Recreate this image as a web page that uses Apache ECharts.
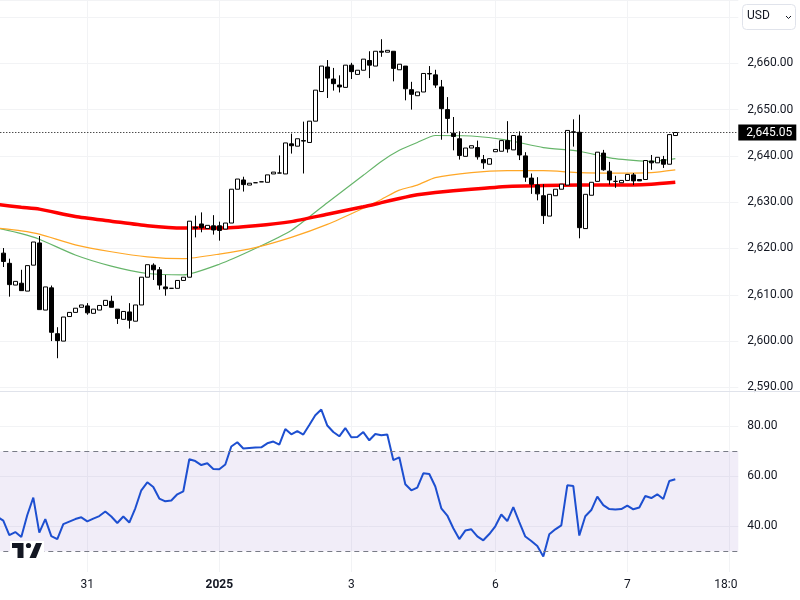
<!DOCTYPE html>
<html>
<head>
<meta charset="utf-8">
<style>html,body{margin:0;padding:0;background:#fff}#main{width:800px;height:600px}</style>
<script src="https://cdn.jsdelivr.net/npm/echarts@6/dist/echarts.min.js"></script>
</head>
<body>
<div id="main"></div>
<script>
// price candles, one entry per bar (first bar sits just off the left edge)
var opens = [2620.5,2619.0,2616.8,2612.1,2612.5,2610.8,2616.4,2621.2,2606.7,2611.5,2601.6,2600,2605.3,2606.2,2607.3,2607.6,2606,2606.7,2607.7,2608.6,2606.9,2604.7,2606.3,2604.3,2607.8,2613.8,2616.4,2615.4,2611.7,2611.4,2611.4,2613.1,2613.8,2624.6,2625.3,2624.3,2624.9,2624.9,2624.2,2625.5,2632.8,2634.8,2633.7,2634.2,2634.4,2634.3,2636.1,2636.3,2636.1,2642.6,2642.1,2643.3,2642.9,2647.5,2653.9,2659.2,2656.6,2655.3,2654.8,2659.6,2657.6,2658.5,2660.6,2659.4,2662.6,2662.4,2662.6,2658.6,2659.4,2654.3,2653,2653.8,2657.8,2657.5,2654.9,2650,2644.9,2643.7,2639.9,2641.7,2641.8,2639.2,2638.2,2640.9,2641,2643.3,2641.3,2644.3,2640,2635.2,2633.7,2631.4,2627,2631.4,2632.8,2633.7,2645.2,2645.1,2624.3,2631.5,2634.5,2640.6,2636.7,2634.5,2634.2,2634.7,2635.9,2634.9,2634.9,2638.9,2638.5,2639.2,2638.2,2644.4];
var closes = [2619.2,2617.2,2612.2,2612.9,2610.9,2616.3,2621.4,2606.8,2611.7,2601.9,2600.1,2605.2,2606.2,2607.1,2607.8,2606.1,2606.9,2607.7,2608.8,2607.3,2604.9,2606.4,2604.5,2607.8,2613.8,2616.5,2615.4,2612.1,2611.3,2611.4,2613.1,2613.8,2625.9,2624.4,2624.5,2625,2624,2623.9,2625.5,2632.8,2635,2633.8,2634.1,2634.2,2634.4,2635.9,2636.5,2636.3,2642.8,2642.2,2643.7,2643.2,2647.5,2654.2,2659.4,2656.8,2655.6,2654.9,2659.6,2658.2,2658.5,2660.9,2659.6,2662.6,2662.4,2662.8,2658.9,2659.8,2654.5,2653.3,2653.8,2657.8,2657.7,2655.3,2650.2,2648.1,2644.2,2640.1,2641.7,2642.2,2639.8,2638.5,2639.4,2641.4,2643.3,2641.5,2644.4,2640.2,2635.4,2633.9,2631.8,2627.1,2631.7,2632.8,2633.9,2645.5,2645.1,2624.5,2631.7,2634.3,2640.8,2637,2634.8,2634.5,2634.7,2636,2634.6,2634.6,2639,2638.5,2639.7,2638.2,2644.6,2645.05];
var highs = [2620.8,2620.1,2617.8,2612.9,2615.4,2616.3,2621.4,2622.7,2611.7,2612,2603,2605.2,2606.2,2607.1,2607.8,2608.2,2606.9,2607.7,2608.8,2609.8,2606.9,2606.4,2608.2,2607.8,2613.8,2616.5,2616.8,2616,2614.3,2611.4,2613.1,2613.8,2625.9,2627.1,2627.8,2625,2627.2,2625.8,2625.5,2632.8,2635,2635.5,2634.1,2634.2,2634.4,2635.9,2636.5,2640.1,2642.8,2644.8,2643.7,2647.4,2647.5,2654.2,2659.4,2660.7,2659,2657.4,2659.6,2660.1,2658.5,2660.9,2662.6,2662.6,2665.2,2662.8,2662.6,2659.8,2659.4,2656,2653.8,2657.8,2659.4,2658.6,2656.4,2652.7,2648.4,2645.3,2641.7,2642.2,2643.3,2640.2,2639.4,2641.4,2643.3,2647.5,2644.4,2645.3,2640.8,2636.2,2635.4,2633.9,2631.7,2632.8,2633.9,2645.5,2647.9,2648.9,2631.7,2634.3,2640.8,2641.3,2638.7,2635.7,2634.7,2636,2636.3,2634.9,2639,2640.2,2639.7,2640,2644.6,2645.05];
var lows = [2619,2616,2609.6,2612.1,2610.9,2610.8,2616.4,2606.8,2606.7,2600,2596.3,2600,2605.3,2606.2,2607.3,2605.7,2606,2606.7,2607.7,2607.3,2603.7,2604.7,2602.7,2604.3,2607.8,2613.8,2613.2,2611.1,2609.8,2611.4,2611.4,2613.1,2613.8,2622.4,2623.5,2624.3,2623,2621.7,2624.2,2625.5,2632.8,2632.3,2633.7,2634.2,2634.4,2634.3,2636.1,2636.3,2636.1,2640.5,2642.1,2636.2,2642.9,2647.5,2653.9,2652.5,2654.1,2653.7,2654.8,2656.6,2657.6,2658.5,2656.8,2659.4,2661.4,2662.4,2656.1,2658.6,2652,2650,2653,2653.8,2656.4,2654.7,2643.5,2644.9,2641.2,2639.2,2639.9,2641.7,2639.2,2637.2,2638.2,2640.9,2641,2640.7,2641.3,2639.1,2634.4,2631.8,2630.4,2625.3,2627,2631.4,2632.8,2633.7,2642,2622.2,2624.3,2631.5,2634.5,2636.8,2633.8,2633.1,2634.2,2634.7,2633.7,2634.6,2634.9,2637,2638.5,2637.4,2638.2,2644.4];

var maBars = [0,4,7,13,19,25,31,37,43,49,55,61,64,67,70,73,79,85,91,97,103,109,113];
var maRed = [2629.5,2628.9,2628.5,2626.9,2625.9,2624.9,2624.4,2624.4,2624.9,2625.8,2627.4,2629,2629.9,2630.8,2631.6,2632.1,2632.8,2633.4,2633.6,2633.7,2633.7,2633.9,2634.3];
var maOrange = [2624.4,2623.8,2623.1,2620.8,2619.3,2618.2,2617.8,2618.8,2620.2,2622.4,2625.2,2628.7,2630.6,2632.6,2633.7,2635.3,2636.4,2636.8,2636.8,2636.4,2636.3,2636.4,2637];
var maGreen = [2624.4,2623.2,2622,2618.6,2616.2,2614.6,2614.3,2616.6,2620,2623.9,2629.9,2635.8,2638.8,2641.2,2642.9,2644.4,2644.3,2643.4,2641.8,2641,2639.4,2638.8,2639.4];

// RSI, one entry per bar
var rsi = [43.8,42.3,36.5,37.7,35.7,44.5,51.5,37.5,42.9,36.1,34.9,40.9,41.9,42.9,43.6,42,43.1,44.1,45.9,43.9,41.3,43.9,41.5,47.2,54.4,57.6,55.7,51.1,50,50.3,52.8,54,66.8,66.1,64.5,65.2,62.9,62.8,64.7,71.9,73.6,71.1,71.3,71.5,71.6,73.2,73.9,72.7,78.9,76.8,78.1,76.7,80.5,84.4,86.7,80.3,77.7,76,79.3,75.6,75.7,77.7,74.4,76.9,76.4,76.7,66.5,67.6,56.8,54.4,55.5,61.2,60.9,55.9,47.2,44.3,39.2,34.9,38.3,38.8,36,34.4,36.9,40,44.7,42.1,47.7,41.7,35.9,34.1,32.1,27.9,36.8,38.8,40.4,56.4,56.1,36.3,44,46.5,51.9,48.5,46.9,46.7,46.9,48.3,46.8,47.5,52.1,51.3,52.8,50.9,58.1,58.8];

// time axis: 124 slots, only these get a label and a grid line
var slotCount = 124;
var tickSlots = [15,37,59,83,105,122];
var tickLabels = ['31','2025','3','6','7','18:00'];
var lastPrice = 2645.05;

var categories = [];
for (var i = 0; i < slotCount; i++) {
    var t = tickSlots.indexOf(i);
    categories.push(t >= 0 ? tickLabels[t] : '');
}

var candles = opens.map(function (o, i) {
    return [o, closes[i], lows[i], highs[i]];
});

function maLine(values) {
    return values.map(function (v, i) { return [maBars[i], v]; });
}

function isTick(index) {
    return tickSlots.indexOf(index) >= 0;
}

var textColor = '#131722';
var gridColor = '#f2f3f5';
var fontName = 'Roboto, sans-serif';

var myChart = echarts.init(document.getElementById('main'), null, { renderer: 'canvas' });

var option = {
    animation: false,
    backgroundColor: '#fff',
    textStyle: { fontFamily: fontName },
    grid: [
        { left: -5.7, width: 744, top: 0, height: 387.4, outerBoundsMode: 'none' },
        { left: -5.7, width: 744, top: 387.4, height: 188.9, outerBoundsMode: 'none' }
    ],
    xAxis: [
        {
            type: 'category', gridIndex: 0, data: categories,
            axisLine: { show: false }, axisTick: { show: false }, axisLabel: { show: false },
            splitLine: { show: true, alignWithLabel: true, interval: isTick, lineStyle: { color: gridColor } }
        },
        {
            type: 'category', gridIndex: 1, data: categories,
            axisLine: { show: false }, axisTick: { show: false },
            axisLabel: {
                interval: isTick, color: textColor, fontSize: 12, margin: 3,
                fontFamily: fontName,
                formatter: function (v) { return v === '2025' ? '{b|2025}' : v; },
                rich: { b: { fontWeight: 'bold', fontSize: 12, color: textColor, fontFamily: fontName } }
            },
            splitLine: { show: true, alignWithLabel: true, interval: isTick, lineStyle: { color: gridColor } }
        }
    ],
    yAxis: [
        {
            type: 'value', gridIndex: 0, position: 'right',
            min: 2590, max: 2673.67, interval: 10,
            axisLine: { show: false }, axisTick: { show: false },
            axisLabel: {
                color: textColor, fontSize: 12, margin: 9, fontFamily: fontName,
                padding: [0, 0, 2, 0],
                formatter: function (v) {
                    if (v > 2665) return '';
                    return v.toLocaleString('en-US', { minimumFractionDigits: 2 });
                }
            },
            splitLine: { lineStyle: { color: gridColor } }
        },
        {
            type: 'value', gridIndex: 1, position: 'right',
            min: 20, max: 95.56, interval: 20,
            axisLine: { show: false }, axisTick: { show: false },
            axisLabel: {
                color: textColor, fontSize: 12, margin: 9, fontFamily: fontName,
                padding: [3, 0, 0, 0],
                formatter: function (v) { return (v === 20 || v > 90) ? '' : v.toFixed(2); }
            },
            splitLine: { showMinLine: false, showMaxLine: false, lineStyle: { color: gridColor } }
        }
    ],
    series: [
        {
            name: 'MA green', type: 'line', xAxisIndex: 0, yAxisIndex: 0, data: maLine(maGreen),
            symbol: 'none', smooth: 0.2, z: 2, lineStyle: { color: '#66b56a', width: 1.2 }
        },
        {
            name: 'MA orange', type: 'line', xAxisIndex: 0, yAxisIndex: 0, data: maLine(maOrange),
            symbol: 'none', smooth: 0.2, z: 2, lineStyle: { color: '#ffa726', width: 1.2 }
        },
        {
            name: 'MA red', type: 'line', xAxisIndex: 0, yAxisIndex: 0, data: maLine(maRed),
            symbol: 'none', smooth: 0.2, z: 2, lineStyle: { color: '#ff0000', width: 3.5 }
        },
        {
            name: 'Price', type: 'candlestick', xAxisIndex: 0, yAxisIndex: 0, data: candles,
            barWidth: 4, z: 3,
            itemStyle: { color: '#fff', color0: '#000', borderColor: '#000', borderColor0: '#000', borderWidth: 1 },
            markLine: {
                silent: true, symbol: 'none', animation: false,
                lineStyle: { color: '#000', type: [1, 2], width: 1 },
                label: {
                    position: 'end', distance: 0, color: '#fff', backgroundColor: '#000',
                    padding: [2, 4, 2, 8], fontSize: 12, fontFamily: fontName,
                    formatter: function () {
                        return lastPrice.toLocaleString('en-US', { minimumFractionDigits: 2 });
                    }
                },
                data: [{ yAxis: lastPrice }]
            }
        },
        {
            name: 'RSI', type: 'line', xAxisIndex: 1, yAxisIndex: 1, data: rsi,
            symbol: 'none', z: 3, lineStyle: { color: '#1d4fd0', width: 2 },
            markArea: {
                silent: true, animation: false,
                itemStyle: { color: 'rgba(126,87,194,0.11)' },
                data: [[{ yAxis: 70 }, { yAxis: 30 }]]
            },
            markLine: {
                silent: true, symbol: 'none', animation: false, label: { show: false },
                lineStyle: { color: '#787b86', type: [5, 4], width: 1 },
                data: [{ yAxis: 70 }, { yAxis: 30 }]
            }
        }
    ],
    graphic: [
        // pane divider
        { type: 'rect', z: 20, shape: { x: 0, y: 391, width: 800, height: 1 }, style: { fill: '#e0e3eb' } },
        // vertical grid lines stop above the time labels
        { type: 'rect', z: 20, shape: { x: 0, y: 572, width: 738, height: 5 }, style: { fill: '#fff' } },
        // time axis is cut at the edge of the plot
        { type: 'rect', z: 20, shape: { x: 738, y: 576, width: 62, height: 24 }, style: { fill: '#fff' } },
        // USD box
        { type: 'rect', z: 20, shape: { x: 742.5, y: 4.5, width: 53, height: 25, r: 4 }, style: { fill: '#fff', stroke: '#e0e3eb', lineWidth: 1 } },
        { type: 'text', z: 21, x: 747, y: 10, style: { text: 'USD', fill: textColor, font: '12px ' + fontName } },
        { type: 'polyline', z: 21, shape: { points: [[786, 16], [788.5, 18.5], [791, 16]] }, style: { stroke: textColor, lineWidth: 1, fill: 'none' } },
        // logo
        { type: 'rect', z: 20, shape: { x: 10, y: 541, width: 34, height: 18 }, style: { fill: '#fff' } },
        { type: 'polygon', z: 21, shape: { points: [[12, 543], [23.5, 543], [23.5, 558], [17.5, 558], [17.5, 548], [12, 548]] }, style: { fill: textColor } },
        { type: 'circle', z: 21, shape: { cx: 28.5, cy: 545.5, r: 2.6 }, style: { fill: textColor } },
        { type: 'polygon', z: 21, shape: { points: [[36, 543], [42, 543], [36, 558], [29.5, 558]] }, style: { fill: textColor } }
    ]
};

myChart.setOption(option);
</script>
</body>
</html>
